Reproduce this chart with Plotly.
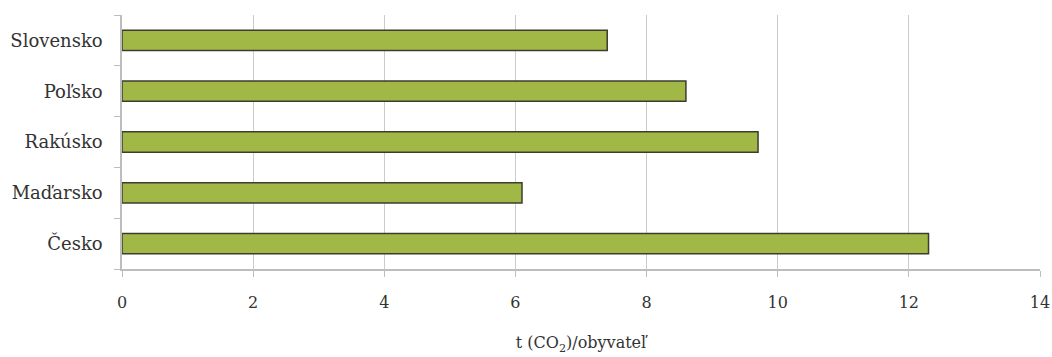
import plotly.graph_objects as go

countries = ["Česko", "Maďarsko", "Rakúsko", "Poľsko", "Slovensko"]
values = [12.3, 6.1, 9.7, 8.6, 7.4]
x_ticks = [0, 2, 4, 6, 8, 10, 12, 14]

FONT = "DejaVu Serif"

fig = go.Figure(go.Bar(
    y=countries, x=values, orientation="h",
    marker=dict(color="#a2b846", line=dict(color="#3c3c30", width=1.5)),
    width=0.4,
))

fig.update_layout(
    width=1052, height=357,
    margin=dict(l=122, r=12, t=15, b=88),
    plot_bgcolor="white", paper_bgcolor="white",
    showlegend=False,
    font=dict(family=FONT, size=17, color="#333333"),
    bargap=0.6,
)
fig.update_xaxes(
    range=[0, 14], tickvals=x_ticks, ticktext=[str(v) for v in x_ticks],
    showgrid=True, gridcolor="#cccccc", gridwidth=1,
    showline=True, linecolor="#bdbdbd", linewidth=1.5,
    ticks="outside", ticklen=6, tickcolor="#bdbdbd",
    tickfont=dict(family=FONT, size=16, color="#333333"),
    ticklabelstandoff=12,
    zeroline=False, automargin=False,
    title=dict(text="t (CO<sub>2</sub>)/obyvateľ", font=dict(family=FONT, size=16, color="#333333"), standoff=26),
)
fig.update_yaxes(
    categoryorder="array", categoryarray=countries,
    showline=True, linecolor="#bdbdbd", linewidth=1.5,
    ticks="outside", ticklen=6, tickcolor="#bdbdbd", tickson="boundaries",
    tickfont=dict(family=FONT, size=18, color="#333333"),
    showgrid=False, ticklabelstandoff=14, automargin=False,
)

fig.write_html("out.html", config={"displayModeBar": False},
               post_script="document.body.style.margin='0';")
